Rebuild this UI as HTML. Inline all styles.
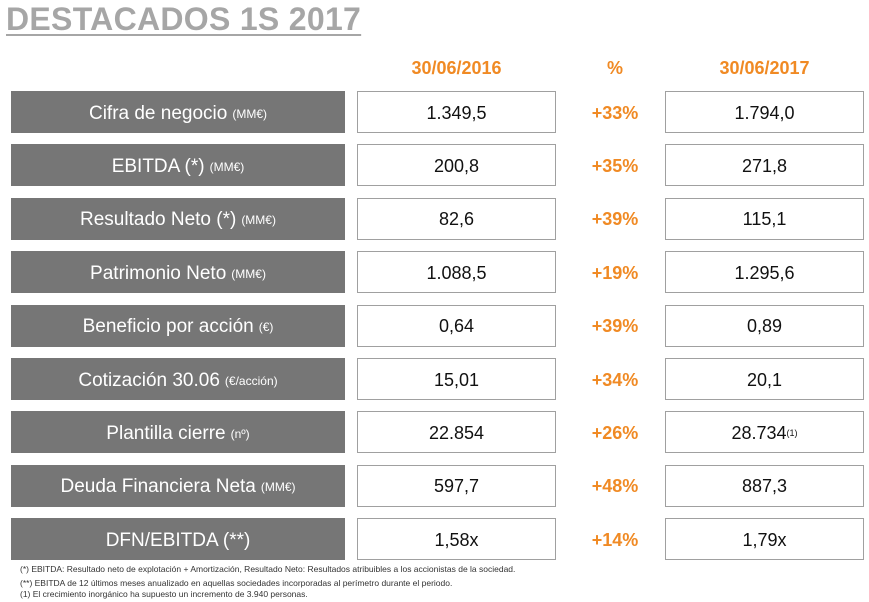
<!DOCTYPE html>
<html><head><meta charset="utf-8"><style>
body{margin:0;width:869px;height:602px;background:#fff;position:relative;font-family:"Liberation Sans",sans-serif;overflow:hidden}
.t{position:absolute;left:6px;top:1px;font-size:32px;font-weight:bold;color:#a6a6a6;text-decoration:underline;text-decoration-thickness:2px;text-underline-offset:4px;letter-spacing:0.3px}
.h{position:absolute;top:58px;color:#f08a24;font-weight:bold;font-size:18px;text-align:center}
.lab{position:absolute;left:11px;width:334px;height:42px;background:#767676;color:#fff;font-size:19px;display:flex;align-items:center;justify-content:center;padding-top:3px;box-sizing:border-box}
.lab small{font-size:12px;margin-left:5px}
.val{position:absolute;width:197px;height:40px;border:1px solid #a0a0a0;background:#fff;font-size:18px;color:#111;display:flex;align-items:center;justify-content:center;padding-top:2px;box-sizing:content-box;height:38px}
.val sup{font-size:9px;vertical-align:0}
.pct{position:absolute;left:575px;width:80px;height:42px;color:#f08a24;font-weight:bold;font-size:18px;display:flex;align-items:center;justify-content:center;padding-top:2px;box-sizing:border-box}
.f{position:absolute;left:20px;font-size:8.5px;color:#333}
</style></head><body>
<div class="t">DESTACADOS 1S 2017</div>
<div class="h" style="left:357px;width:199px">30/06/2016</div>
<div class="h" style="left:575px;width:80px">%</div>
<div class="h" style="left:665px;width:199px">30/06/2017</div>
<div id="rows"></div>
<div class="f" style="top:564px">(*) EBITDA: Resultado neto de explotación + Amortización, Resultado Neto: Resultados atribuibles a los accionistas de la sociedad.</div>
<div class="f" style="top:578px">(**) EBITDA de 12 últimos meses anualizado en aquellas sociedades incorporadas al perímetro durante el periodo.</div>
<div class="f" style="top:589px">(1) El crecimiento inorgánico ha supuesto un incremento de 3.940 personas.</div>
<script>
const labels=["Cifra de negocio","EBITDA (*)","Resultado Neto (*)","Patrimonio Neto","Beneficio por acción","Cotización 30.06","Plantilla cierre","Deuda Financiera Neta","DFN/EBITDA (**)"];
const units=["(MM€)","(MM€)","(MM€)","(MM€)","(€)","(€/acción)","(nº)","(MM€)",""];
const v2016=["1.349,5","200,8","82,6","1.088,5","0,64","15,01","22.854","597,7","1,58x"];
const pcts=["+33%","+35%","+39%","+19%","+39%","+34%","+26%","+48%","+14%"];
const v2017=["1.794,0","271,8","115,1","1.295,6","0,89","20,1","28.734<sup>(1)</sup>","887,3","1,79x"];
const root=document.getElementById('rows');
labels.forEach((l,i)=>{
 const top=91+i*53.4;
 const a=document.createElement('div');a.className='lab';a.style.top=top+'px';
 
 
 a.innerHTML=l+(units[i]?'<small>'+units[i]+'</small>':'');root.appendChild(a);
 const b=document.createElement('div');b.className='val';b.style.top=top+'px';b.style.left='357px';
 
 
 b.innerHTML=v2016[i];root.appendChild(b);
 const c=document.createElement('div');c.className='pct';c.style.top=top+'px';
 
 
 c.textContent=pcts[i];root.appendChild(c);
 const d=document.createElement('div');d.className='val';d.style.top=top+'px';d.style.left='665px';
 
 
 d.innerHTML=v2017[i];root.appendChild(d);
});
</script>
</body></html>
